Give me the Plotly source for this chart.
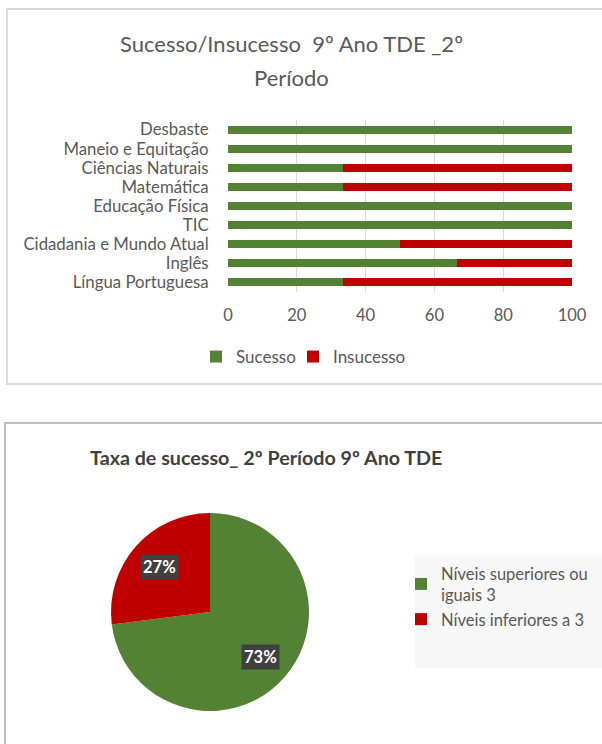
import math
import plotly.graph_objects as go

W, H = 602, 744

# ---------------- data ----------------
subjects = ["Língua Portuguesa", "Inglês", "Cidadania e Mundo Atual", "TIC",
            "Educação Física", "Matemática", "Ciências Naturais",
            "Maneio e Equitação", "Desbaste"]
sucesso = [33.3, 66.7, 50, 100, 100, 33.3, 33.3, 100, 100]
insucesso = [66.7, 33.3, 50, 0, 0, 66.7, 66.7, 0, 0]
x_ticks = [0, 20, 40, 60, 80, 100]

pie_labels = ["Níveis superiores ou<br>iguais 3", "Níveis inferiores a 3"]
pie_values = [73, 27]

bar_title_1 = "Sucesso/Insucesso  9º Ano TDE _2º"
bar_title_2 = "Período"
pie_title = "Taxa de sucesso_ 2º Período 9º Ano TDE"

GREEN = "#548235"
RED = "#C00000"
TXT = "#595959"
FONT = "Lato, 'Open Sans', sans-serif"


def px(x):
    return x / W


def py(y):
    return 1 - y / H


fig = go.Figure()

fig.add_trace(go.Bar(y=subjects, x=sucesso, name="Sucesso", orientation="h",
                     marker=dict(color=GREEN, line=dict(width=0)), legend="legend",
                     hoverinfo="x+y"))
fig.add_trace(go.Bar(y=subjects, x=insucesso, name="Insucesso", orientation="h",
                     marker=dict(color=RED, line=dict(width=0)), legend="legend3",
                     hoverinfo="x+y"))

# pie geometry (layout, pixels)
pcx, pcy, pr = 210, 612, 98
dom = pr + 1
fig.add_trace(go.Pie(labels=pie_labels, values=pie_values, sort=False,
                     direction="clockwise", rotation=0,
                     marker=dict(colors=[GREEN, RED], line=dict(width=0)),
                     textinfo="none", legend="legend2",
                     domain=dict(x=[px(pcx - dom), px(pcx + dom)],
                                 y=[py(pcy + dom), py(pcy - dom)])))

annotations = [
    dict(text=bar_title_1, x=px(291), y=py(44), xref="paper", yref="paper",
         showarrow=False, font=dict(family=FONT, size=22, color=TXT),
         xanchor="center", yanchor="middle"),
    dict(text=bar_title_2, x=px(291), y=py(77), xref="paper", yref="paper",
         showarrow=False, font=dict(family=FONT, size=22, color=TXT),
         xanchor="center", yanchor="middle"),
    dict(text=pie_title, x=px(266), y=py(457), xref="paper", yref="paper",
         showarrow=False, font=dict(family=FONT, size=19.7, color="#404040", weight="bold"),
         xanchor="center", yanchor="middle"),
]

# percentage labels placed at the slice mid-angle
total = sum(pie_values)
cum = 0
for v in pie_values:
    mid = (cum + v / 2) / total * 2 * math.pi
    cum += v
    lx = pcx + 0.69 * pr * math.sin(mid)
    ly = pcy - 0.69 * pr * math.cos(mid)
    annotations.append(dict(text=f"<b>{round(v / total * 100)}%</b>", x=px(lx), y=py(ly),
                            xref="paper", yref="paper", showarrow=False,
                            font=dict(family=FONT, size=16.5, color="white"),
                            bgcolor="#404040", borderpad=2,
                            xanchor="center", yanchor="middle"))

shapes = [
    dict(type="rect", xref="paper", yref="paper", x0=px(7), x1=px(603),
         y0=py(384), y1=py(9), line=dict(color="#D9D9D9", width=2), layer="below"),
    dict(type="rect", xref="paper", yref="paper", x0=px(5), x1=px(603),
         y0=py(746), y1=py(423), line=dict(color="#BFBFBF", width=2), layer="below"),
    dict(type="rect", xref="paper", yref="paper", x0=px(415), x1=px(602),
         y0=py(668), y1=py(555), line=dict(width=0), fillcolor="#F7F7F7", layer="below"),
]

fig.update_layout(
    width=W, height=H, autosize=False,
    margin=dict(l=0, r=0, t=0, b=0, autoexpand=False),
    paper_bgcolor="white", plot_bgcolor="white",
    barmode="stack", bargap=0.58,
    font=dict(family=FONT, color=TXT),
    xaxis=dict(domain=[px(228), px(572)], range=[0, 100], tickvals=x_ticks,
               showgrid=True, gridcolor="#D9D9D9", gridwidth=1, zeroline=False,
               showline=False, ticks="outside", ticklen=8, tickcolor="rgba(0,0,0,0)",
               tickfont=dict(family=FONT, size=16.5, color=TXT), fixedrange=True),
    yaxis=dict(domain=[py(292), py(120)], type="category",
               tickmode="array", tickvals=subjects, ticktext=subjects,
               showgrid=False, showline=False, zeroline=False,
               ticks="outside", ticklen=15, tickcolor="rgba(0,0,0,0)",
               tickfont=dict(family=FONT, size=16.8, color=TXT), fixedrange=True),
    legend=dict(orientation="h", x=px(196), y=py(357), xanchor="left", yanchor="middle",
                font=dict(family=FONT, size=17, color=TXT), bgcolor="rgba(0,0,0,0)",
                itemwidth=30),
    legend3=dict(orientation="h", x=px(293), y=py(357), xanchor="left", yanchor="middle",
                 font=dict(family=FONT, size=17, color=TXT), bgcolor="rgba(0,0,0,0)",
                 itemwidth=30),
    legend2=dict(orientation="v", x=px(401), y=py(556), xanchor="left", yanchor="top",
                 font=dict(family=FONT, size=16.5, color=TXT), bgcolor="rgba(0,0,0,0)",
                 itemwidth=30),
    annotations=annotations,
    shapes=shapes,
    showlegend=True,
)

fig.write_html(
    "out.html",
    config={"responsive": False, "displayModeBar": False},
    post_script="document.body.style.margin='0';document.documentElement.style.overflow='hidden';",
)
